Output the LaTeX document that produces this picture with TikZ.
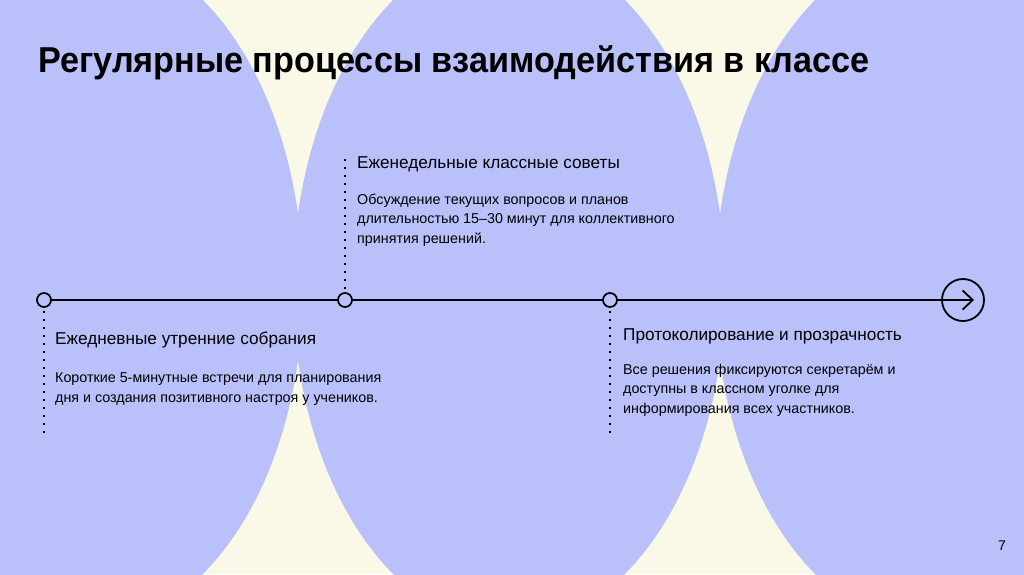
\documentclass[tikz,border=0pt]{standalone}
\usepackage{fontspec}
\setmainfont{Liberation Sans}
\usetikzlibrary{arrows.meta}
\definecolor{lav}{HTML}{B9C0FA}
\definecolor{cream}{HTML}{FAF9E7}
\begin{document}
\begin{tikzpicture}[x=1pt,y=-1pt,
  stop/.style={circle,draw=black,line width=1.7pt,minimum size=14pt,inner sep=0pt},
  endstop/.style={circle,draw=black,line width=1.8pt,minimum size=42pt,inner sep=0pt},
  tl/.style={line width=1.8pt,black},
  vdots/.style={line width=1.8pt,dash pattern=on 1.8pt off 6.2pt,black},
  head/.style={anchor=base west,inner sep=0pt,font=\fontsize{17.2}{20}\selectfont},
  body/.style={anchor=base west,inner sep=0pt,align=left,font=\fontsize{14.3}{19.5}\selectfont},
]
\useasboundingbox (0,0) rectangle (1024,574);
\fill[cream] (0,0) rectangle (1024,574);
\begin{scope}
  \clip (0,0) rectangle (1024,574);
  \fill[lav] (87,287) ellipse [x radius=216, y radius=340];
  \fill[lav] (509,287) ellipse [x radius=216, y radius=340];
  \fill[lav] (931,287) ellipse [x radius=216, y radius=340];
\end{scope}

\node[anchor=base west,inner sep=0pt,font=\bfseries\fontsize{36}{40}\selectfont] (title) at (38,72) {\scalebox{0.95}[1]{Регулярные процессы взаимодействия в классе}};

\node[stop] (c1) at (44,300) {};
\node[stop] (c2) at (345,300) {};
\node[stop] (c3) at (610,300) {};
\node[endstop] (cend) at (963,300) {};
\coordinate (tip) at (974,300);
\draw[tl] (c1) -- (c2);
\draw[tl] (c2) -- (c3);
\draw[tl,-{Straight Barb[length=10pt,width=19pt,line width=1.8pt]}] (c3) -- (tip);

\coordinate (d1) at (44,434);
\coordinate (d2) at (345,157);
\coordinate (d3) at (610,434);
\draw[vdots] ([yshift=-3pt]c1.south) -- (d1);
\draw[vdots] ([yshift=3pt]c2.north) -- (d2);
\draw[vdots] ([yshift=-3pt]c3.south) -- (d3);

\node[head] (h1) at (55,344) {Ежедневные утренние собрания};
\node[body] (b1) at (55,402) {Короткие 5-минутные встречи для планирования\\дня и создания позитивного настроя у учеников.};

\node[head] (h2) at (357,168) {Еженедельные классные советы};
\node[body] (b2) at (357,243) {Обсуждение текущих вопросов и планов\\длительностью 15–30 минут для коллективного\\принятия решений.};

\node[head] (h3) at (623,340) {Протоколирование и прозрачность};
\node[body] (b3) at (623,413) {Все решения фиксируются секретарём и\\доступны в классном уголке для\\информирования всех участников.};

\node[anchor=base west,inner sep=0pt,font=\fontsize{14}{16}\selectfont] (pg) at (998,550) {7};
\end{tikzpicture}
\end{document}
